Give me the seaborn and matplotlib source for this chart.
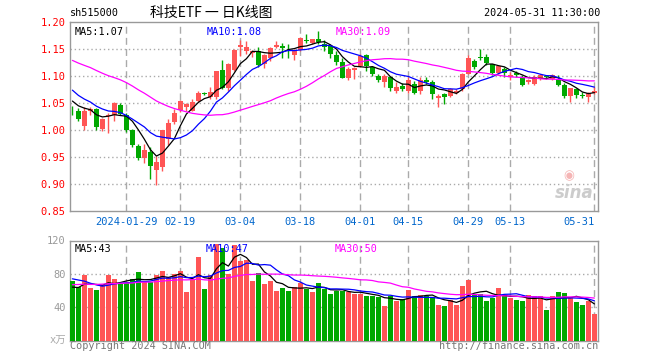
import matplotlib
matplotlib.use("Agg")
import matplotlib.pyplot as plt
import numpy as np
import pandas as pd
import seaborn as sns

sns.set_style("white")
plt.rcParams["font.family"] = ["DejaVu Sans Mono", "Noto Sans CJK SC"]

RED = "#ff5555"
GREEN = "#00a800"
MA_COLORS = {5: "black", 10: "#0000ff", 30: "#ff00ff"}

HOLIDAYS = ["2024-02-09", "2024-02-12", "2024-02-13", "2024-02-14", "2024-02-15",
            "2024-02-16", "2024-04-04", "2024-04-05", "2024-05-01", "2024-05-02",
            "2024-05-03"]
TICK_DATES = ["2024-01-29", "2024-02-19", "2024-03-04", "2024-03-18", "2024-04-01",
              "2024-04-15", "2024-04-29", "2024-05-13", "2024-05-31"]

open_ = [1.041, 1.036, 1.008, 1.036, 1.038, 1.002, 1.026, 1.027, 1.046, 1.027,
         1.000, 0.971, 0.948, 0.960, 0.926, 0.932, 0.983, 1.015, 1.037, 1.042,
         1.036, 1.053, 1.069, 1.061, 1.061, 1.112, 1.078, 1.111, 1.154, 1.147,
         1.143, 1.146, 1.122, 1.134, 1.153, 1.156, 1.149, 1.138, 1.149, 1.167,
         1.161, 1.169, 1.159, 1.156, 1.138, 1.126, 1.097, 1.112, 1.119, 1.138,
         1.116, 1.100, 1.089, 1.098, 1.072, 1.082, 1.072, 1.085, 1.072, 1.092,
         1.089, 1.059, 1.066, 1.063, 1.069, 1.075, 1.104, 1.127, 1.135, 1.136,
         1.122, 1.105, 1.113, 1.099, 1.105, 1.098, 1.088, 1.086, 1.095, 1.099,
         1.095, 1.095, 1.084, 1.063, 1.075, 1.064, 1.062, 1.068]
high = [1.045, 1.040, 1.042, 1.043, 1.041, 1.022, 1.031, 1.052, 1.050, 1.032,
        1.001, 0.975, 0.975, 0.968, 0.951, 1.000, 1.020, 1.038, 1.055, 1.050,
        1.057, 1.072, 1.071, 1.079, 1.109, 1.130, 1.125, 1.150, 1.166, 1.165,
        1.148, 1.154, 1.141, 1.154, 1.165, 1.161, 1.160, 1.150, 1.172, 1.177,
        1.169, 1.184, 1.167, 1.158, 1.147, 1.134, 1.116, 1.116, 1.140, 1.140,
        1.119, 1.104, 1.103, 1.100, 1.089, 1.087, 1.099, 1.090, 1.099, 1.099,
        1.092, 1.066, 1.068, 1.078, 1.076, 1.106, 1.138, 1.132, 1.150, 1.140,
        1.122, 1.119, 1.116, 1.107, 1.110, 1.102, 1.095, 1.102, 1.104, 1.102,
        1.104, 1.102, 1.087, 1.078, 1.077, 1.071, 1.071, 1.080]
low = [1.027, 1.016, 1.000, 1.027, 1.000, 0.998, 0.994, 1.016, 1.027, 0.997,
       0.968, 0.945, 0.939, 0.910, 0.898, 0.924, 0.972, 1.012, 1.034, 1.036,
       1.036, 1.051, 1.065, 1.057, 1.057, 1.076, 1.073, 1.110, 1.137, 1.140,
       1.135, 1.117, 1.115, 1.128, 1.152, 1.133, 1.134, 1.129, 1.147, 1.162,
       1.159, 1.159, 1.147, 1.134, 1.120, 1.097, 1.092, 1.094, 1.116, 1.110,
       1.100, 1.088, 1.079, 1.072, 1.069, 1.072, 1.069, 1.066, 1.067, 1.085,
       1.057, 1.043, 1.049, 1.061, 1.066, 1.073, 1.103, 1.113, 1.130, 1.120,
       1.102, 1.104, 1.099, 1.093, 1.098, 1.081, 1.086, 1.084, 1.093, 1.095,
       1.092, 1.081, 1.059, 1.052, 1.060, 1.059, 1.051, 1.066]
close = [1.040, 1.021, 1.036, 1.038, 1.006, 1.020, 1.028, 1.050, 1.030, 1.000,
         0.973, 0.948, 0.963, 0.934, 0.941, 1.000, 1.013, 1.032, 1.054, 1.049,
         1.052, 1.069, 1.067, 1.071, 1.109, 1.078, 1.122, 1.149, 1.157, 1.154,
         1.146, 1.121, 1.138, 1.152, 1.158, 1.151, 1.146, 1.147, 1.170, 1.164,
         1.168, 1.163, 1.153, 1.141, 1.125, 1.097, 1.113, 1.114, 1.137, 1.119,
         1.104, 1.093, 1.100, 1.077, 1.079, 1.076, 1.092, 1.069, 1.092, 1.088,
         1.067, 1.063, 1.061, 1.075, 1.073, 1.104, 1.133, 1.116, 1.133, 1.124,
         1.105, 1.118, 1.105, 1.102, 1.101, 1.084, 1.093, 1.099, 1.102, 1.098,
         1.101, 1.084, 1.063, 1.077, 1.065, 1.063, 1.069, 1.072]
volume = [71.1, 63.8, 78.4, 63.0, 60.2, 66.3, 78.4, 73.5, 69.5, 69.5,
          73.5, 82.0, 70.3, 70.3, 78.4, 83.2, 76.4, 79.6, 83.2, 57.8,
          74.3, 100.2, 61.4, 78.4, 115.6, 111.5, 79.6, 114.7, 95.4, 96.7,
          71.1, 80.8, 67.5, 71.1, 59.0, 62.6, 59.0, 63.8, 69.5, 61.4,
          57.8, 68.7, 61.4, 55.4, 59.8, 59.8, 57.8, 56.2, 56.2, 53.3,
          53.3, 52.1, 42.0, 52.9, 46.9, 50.1, 60.2, 53.3, 54.1, 52.9,
          52.1, 43.2, 42.0, 48.1, 43.2, 65.0, 72.3, 55.4, 55.8, 46.9,
          50.5, 62.6, 54.1, 50.5, 48.1, 46.9, 54.1, 52.9, 52.9, 37.2,
          52.9, 57.8, 56.6, 52.1, 45.7, 43.2, 46.9, 31.5]

# sessions before the visible window, only needed to warm up the moving averages
prior_close = [1.170, 1.165, 1.160, 1.168, 1.172, 1.166, 1.158, 1.150, 1.155, 1.162,
               1.160, 1.152, 1.148, 1.155, 1.160, 1.158, 1.150, 1.145, 1.140, 1.135,
               1.118, 1.105, 1.092, 1.083, 1.072, 1.065, 1.058, 1.052, 1.053]
prior_volume = [58, 66, 72, 61, 55, 64, 70, 59, 62, 68, 57, 65, 71, 60, 63, 58, 66, 69,
                62, 64, 78, 92, 88, 80, 82, 66, 58, 63, 62]

days = pd.bdate_range("2024-01-16", "2024-05-31")
days = [d.strftime("%Y-%m-%d") for d in days if d.strftime("%Y-%m-%d") not in HOLIDAYS]
n = len(days)

df = pd.DataFrame({"x": np.arange(n), "open": open_, "high": high, "low": low,
                   "close": close, "volume": volume})
all_close = pd.Series(prior_close + close)
all_vol = pd.Series(prior_volume + volume)
for w in (5, 10, 30):
    df[f"ma{w}"] = all_close.rolling(w).mean().to_numpy()[-n:]
    df[f"vma{w}"] = all_vol.rolling(w).mean().to_numpy()[-n:]

W, H = 660, 360


def box(x0, y0, x1, y1):
    return [x0 / W, 1 - y1 / H, (x1 - x0) / W, (y1 - y0) / H]


def style_frame(ax):
    for spine in ax.spines.values():
        spine.set_visible(True)
        spine.set_color("#999999")
        spine.set_linewidth(1.0)
    ax.tick_params(length=0)


fig = plt.figure(figsize=(6.6, 3.6), dpi=100)
ax = fig.add_axes(box(70, 22, 598, 211))
vax = fig.add_axes(box(70, 240.5, 598, 340.5))

tick_idx = [days.index(d) for d in TICK_DATES]
tick_lbl = [TICK_DATES[0]] + [d[5:] for d in TICK_DATES[1:]]

# price panel
up = df["close"] >= df["open"]
colors = np.where(up, RED, GREEN)
ax.vlines(df["x"], df["low"], df["high"], colors=colors, linewidth=1, zorder=3)
body = np.maximum((df["close"] - df["open"]).abs(), 0.0012)
ax.bar(df["x"], body, bottom=np.minimum(df["open"], df["close"]), width=0.72,
       color=colors, linewidth=0, zorder=4)
for w, c in MA_COLORS.items():
    sns.lineplot(data=df, x="x", y=f"ma{w}", color=c, linewidth=0.9, ax=ax, zorder=5)

ax.set_xlim(-0.4, n - 0.4)
ax.set_ylim(0.85, 1.20)
yt = [0.85, 0.90, 0.95, 1.00, 1.05, 1.10, 1.15, 1.20]
ax.set_yticks(yt)
ax.set_yticklabels([f"{v:.2f}" for v in yt], color="#ff0000", fontsize=7.5)
for v in yt[1:-1]:
    ax.axhline(v, color="#aaaaaa", linewidth=1, linestyle=(0, (1, 2)), zorder=1)
for i in tick_idx:
    ax.axvline(i, color="#aaaaaa", linewidth=1, linestyle=(0, (5, 3)), zorder=1)
ax.set_xticks(tick_idx)
ax.set_xticklabels(tick_lbl, color="#0066cc", fontsize=7.5)
ax.get_xticklabels()[-1].set_horizontalalignment("right")
ax.set_xlabel("")
ax.set_ylabel("")
style_frame(ax)
ax.tick_params(axis="y", pad=3)
ax.tick_params(axis="x", pad=4)

last = df.iloc[-1]
ax.text(0.008, 0.975, f"MA5:{last['ma5']:.2f}", transform=ax.transAxes, color="black",
        fontsize=7.3, va="top")
ax.text(0.258, 0.975, f"MA10:{last['ma10']:.2f}", transform=ax.transAxes, color="#0000ff",
        fontsize=7.3, va="top")
ax.text(0.504, 0.975, f"MA30:{last['ma30']:.2f}", transform=ax.transAxes, color="#ff00ff",
        fontsize=7.3, va="top")

# sina watermark
ax.text(0.955, 0.05, "sina", transform=ax.transAxes, color="#cccccc", fontsize=12,
        fontweight="bold", style="italic", ha="center", va="bottom", family="DejaVu Sans")
ax.text(0.945, 0.15, "◉", transform=ax.transAxes, color="#f5b5b5", fontsize=9,
        ha="center", va="bottom", family="DejaVu Sans")

# volume panel
vax.bar(df["x"], df["volume"], width=0.83, color=colors, linewidth=0, zorder=3)
for w, c in MA_COLORS.items():
    sns.lineplot(data=df, x="x", y=f"vma{w}", color=c, linewidth=0.9, ax=vax, zorder=5)
vax.set_xlim(-0.4, n - 0.4)
vax.set_ylim(0, 120)
vax.set_yticks([40, 80, 120])
vax.set_yticklabels(["40", "80", "120"], color="#999999", fontsize=7.5)
vax.set_xticks([])
for v in (40, 80):
    vax.axhline(v, color="#aaaaaa", linewidth=1, linestyle=(0, (1, 2)), zorder=1)
for i in tick_idx:
    vax.axvline(i, color="#aaaaaa", linewidth=1, linestyle=(0, (5, 3)), zorder=1)
vax.set_xlabel("")
vax.set_ylabel("")
style_frame(vax)
vax.tick_params(axis="y", pad=3)

vax.text(0.008, 0.965, f"MA5:{int(last['vma5'])}", transform=vax.transAxes, color="black",
         fontsize=7.3, va="top")
vax.text(0.256, 0.965, f"MA10:{int(last['vma10'])}", transform=vax.transAxes,
         color="#0000ff", fontsize=7.3, va="top")
vax.text(0.502, 0.965, f"MA30:{int(last['vma30'])}", transform=vax.transAxes,
         color="#ff00ff", fontsize=7.3, va="top")

# header and footer text
fig.text(70 / W, 1 - 13 / H, "sh515000", fontsize=7.3, va="center", color="black")
fig.text(211 / W, 1 - 13 / H, "科技ETF 一 日K线图", fontsize=10, va="center", ha="center",
         family=["Noto Sans CJK SC", "DejaVu Sans"], color="black")
fig.text(600 / W, 1 - 13 / H, "2024-05-31 11:30:00", fontsize=7.3, va="center", ha="right",
         color="black")
fig.text(66 / W, 1 - 341 / H, "x万", fontsize=7.5, va="center", ha="right", color="#aaaaaa",
         family=["DejaVu Sans Mono", "Noto Sans CJK SC"])
fig.text(70 / W, 1 - 346 / H, "Copyright 2024 SINA.COM", fontsize=7.3, va="center",
         color="#777777")
fig.text(598 / W, 1 - 346 / H, "http://finance.sina.com.cn", fontsize=7.3, va="center",
         ha="right", color="#777777")

fig.savefig("out.png", dpi=100, facecolor="white")
